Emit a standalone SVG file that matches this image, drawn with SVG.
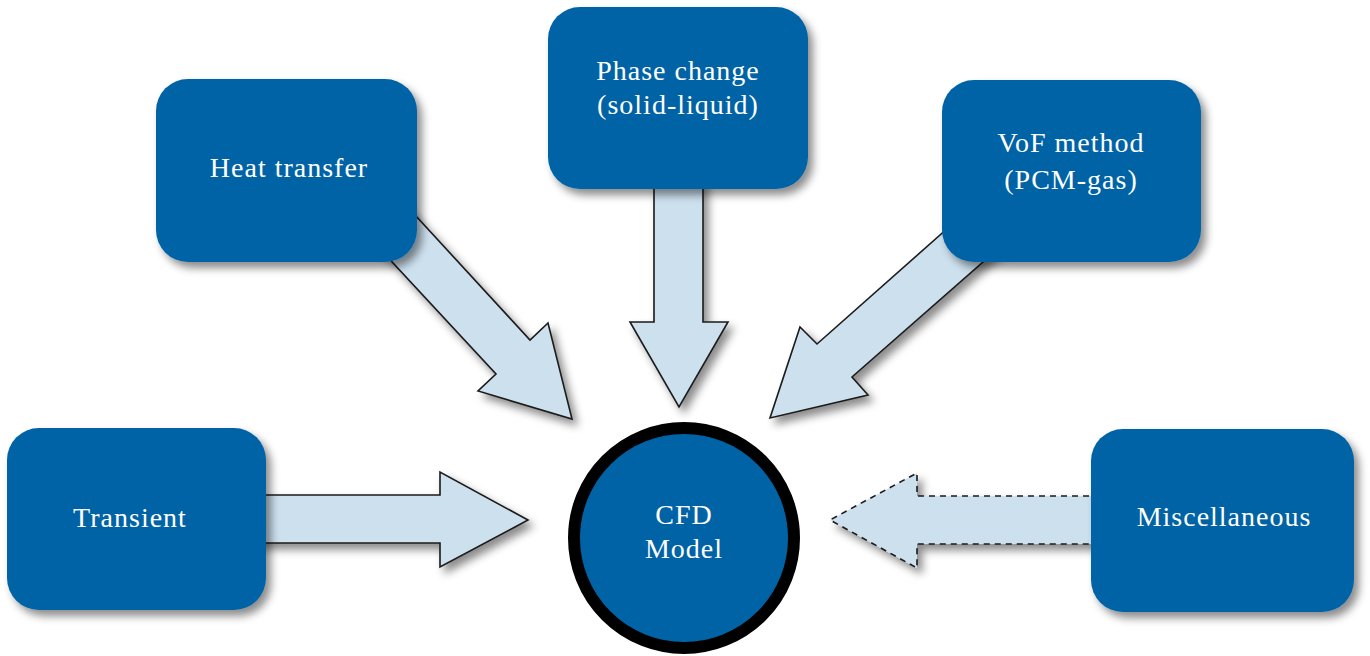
<svg xmlns="http://www.w3.org/2000/svg" width="1370" height="656" viewBox="0 0 1370 656">
<defs>
<filter id="sh" x="-20%" y="-20%" width="150%" height="150%">
<feDropShadow dx="5" dy="6" stdDeviation="4" flood-color="#000" flood-opacity="0.45"/>
</filter>
<style>
.box{fill:#0063a6;filter:url(#sh)}
.arr{fill:#cde0ee;stroke:#1a1a1a;stroke-width:1.6;stroke-linejoin:miter;filter:url(#sh)}
.dash{stroke-dasharray:6 5}
.t{font-family:"Liberation Serif","Times New Roman",serif;font-size:28px;fill:#fff;text-anchor:middle;letter-spacing:1px}
</style>
</defs>
<rect width="1370" height="656" fill="#fff"/>
<g id="connectors">
<polygon class="arr" points="380,177 530,340 548,323 572,419 478,391 496,374 355,222"/>
<polygon class="arr" points="654,180 654,322 630,322 679,407 728,322 703,322 703,180"/>
<polygon class="arr" points="975,204 817,344 800,327 770,418 868,395 852,377 1000,247"/>
<polygon class="arr" points="250,495 440,495 440,472 528,520 440,567 440,543 250,543"/>
<polygon class="arr dash" points="1100,496 917,496 917,473 830,520 917,568 917,544 1100,544"/>
</g>
<g id="heat">
<rect class="box" x="156" y="79" width="261" height="183" rx="32"/>
<text class="t" x="289" y="177">Heat transfer</text>
</g>
<g id="phase">
<rect class="box" x="548" y="7" width="260" height="182" rx="32"/>
<text class="t" x="678" y="80">Phase change</text>
<text class="t" x="678" y="114">(solid-liquid)</text>
</g>
<g id="vof">
<rect class="box" x="942" y="80" width="259" height="182" rx="32"/>
<text class="t" x="1071" y="152">VoF method</text>
<text class="t" x="1071" y="189">(PCM-gas)</text>
</g>
<g id="transient">
<rect class="box" x="7" y="428" width="259" height="182" rx="32"/>
<text class="t" x="130" y="527">Transient</text>
</g>
<g id="misc">
<rect class="box" x="1091" y="429" width="263" height="183" rx="32"/>
<text class="t" x="1224" y="526">Miscellaneous</text>
</g>
<g id="cfd">
<circle cx="684" cy="538" r="110" fill="#0063a6" stroke="#000" stroke-width="12"/>
<text class="t" x="684" y="524">CFD</text>
<text class="t" x="684" y="558">Model</text>
</g>
</svg>
